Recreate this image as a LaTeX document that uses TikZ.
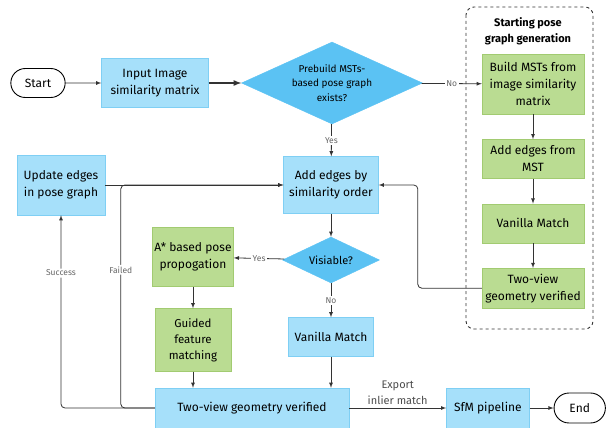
\documentclass[tikz,border=0pt]{standalone}
\usepackage{fontspec}
\setmainfont{Fira Sans}
\usepackage{tikz}
\usetikzlibrary{shapes,arrows,positioning,calc}

\definecolor{boxblue}{HTML}{A6E0FA}
\definecolor{lineblue}{HTML}{7FCFF4}
\definecolor{decblue}{HTML}{5BC2F3}
\definecolor{boxgreen}{HTML}{BADC92}
\definecolor{linegreen}{HTML}{A2CB71}

\begin{document}
\begin{tikzpicture}[
    x=1pt, y=-1pt,
    >=latex,
    node distance=25pt,
    font=\fontsize{12}{17}\selectfont,
    block/.style={draw=lineblue, rectangle, fill=boxblue, align=center, inner sep=2pt},
    mstblock/.style={draw=linegreen, rectangle, fill=boxgreen, align=center, inner sep=2pt, minimum width=102pt},
    decision/.style={draw=decblue, diamond, fill=decblue, align=center, inner sep=0pt},
    terminal/.style={draw=black, rounded rectangle, line width=0.9pt, fill=white},
    lbl/.style={fill=white, text=black!60, font=\fontsize{8.5}{10}\selectfont, inner sep=1.5pt},
    flow/.style={->, draw=black!80, line width=0.8pt}
]
    \useasboundingbox (0,0) rectangle (613,428);

    % main line
    \node[terminal, minimum width=61pt, minimum height=29pt] (start) at (38,83) {Start};
    \node[block, minimum width=107pt, minimum height=49pt] (input) at (155,83) {Input Image\\similarity matrix};
    \node[decision, aspect=2.2, minimum width=181pt, minimum height=82pt, font=\fontsize{10}{14.5}\selectfont] (prebuild) at (332,83) {Prebuild MSTs-\\based pose graph\\exists?};
    \node[block, minimum width=95pt, minimum height=57pt] (addsim) at (331,185) {Add edges by\\similarity order};
    \node[decision, aspect=2.1, minimum width=97pt, minimum height=46pt, font=\fontsize{11}{13}\selectfont] (visible) at (331,260) {Visiable?};
    \node[block, minimum width=85pt, minimum height=39pt] (vanilla) at (331,337) {Vanilla Match};
    \node[block, minimum width=194pt, minimum height=40pt] (twoview) at (252,408) {Two-view geometry verified};
    \node[block, minimum width=83pt, minimum height=40pt, right=97pt of twoview] (sfm) {SfM pipeline};
    \node[terminal, minimum width=58pt, minimum height=30pt, right=24pt of sfm] (end) {End};

    % guided branch
    \node[mstblock, minimum width=76pt, minimum height=59pt] (astar) at (193,257) {A* based pose\\propogation};
    \node[mstblock, minimum width=76pt, minimum height=63pt, font=\fontsize{11.5}{16}\selectfont] (guided) at (193,340) {Guided\\feature\\matching};
    \node[block, minimum width=88pt, minimum height=60pt] (update) at (61,185) {Update edges\\in pose graph};

    % starting pose graph generation
    \draw[dashed, draw=black!80, line width=0.9pt, rounded corners=8pt] (466,7) rectangle (593,329);
    \node[font=\bfseries\fontsize{11}{16}\selectfont, align=center] (title) at (528,31) {Starting pose\\graph generation};
    \node[mstblock, minimum height=60pt] (build) at (533,84) {Build MSTs from\\image similarity\\matrix};
    \node[mstblock, minimum height=39pt, below=of build] (mst) {Add edges from\\MST};
    \node[mstblock, minimum height=39pt, below=of mst] (vanilla2) {Vanilla Match};
    \node[mstblock, minimum height=40pt, below=of vanilla2] (twoview2) {Two-view\\geometry verified};

    \draw[flow] (start) -- (input);
    \draw[flow, line width=1.6pt] (input) -- (prebuild);
    \draw[flow] (prebuild) -- node[lbl] {No} (build);
    \draw[flow] (prebuild) -- node[lbl] {Yes} (addsim);
    \draw[flow] (build) -- (mst);
    \draw[flow] (mst) -- (vanilla2);
    \draw[flow] (vanilla2) -- (twoview2);
    \draw[flow, rounded corners=4pt] (twoview2.west) -- ++(-64,0) |- (addsim.east);
    \draw[flow] (addsim) -- (visible);
    \draw[flow] (visible) -- node[lbl] {Yes} (astar);
    \draw[flow] (visible) -- node[lbl] {No} (vanilla);
    \draw[flow] (astar) -- (guided);
    \draw[flow] (guided) -- (guided |- twoview.north);
    \draw[flow] (vanilla) -- (vanilla |- twoview.north);
    \draw[flow] (update) -- (addsim);
    \draw[flow, rounded corners=4pt] (twoview.west) -| node[lbl, pos=0.85] {Success} (update.south);
    \draw[flow, rounded corners=4pt] (twoview.west) -- ++(-34,0) |- node[lbl, pos=0.31] {Failed} (addsim.west);
    \draw[flow] (twoview) -- node[above, align=center, text=black!70, font=\fontsize{11}{16}\selectfont] {Export\\inlier match} (sfm);
    \draw[flow] (sfm) -- (end);
\end{tikzpicture}
\end{document}
